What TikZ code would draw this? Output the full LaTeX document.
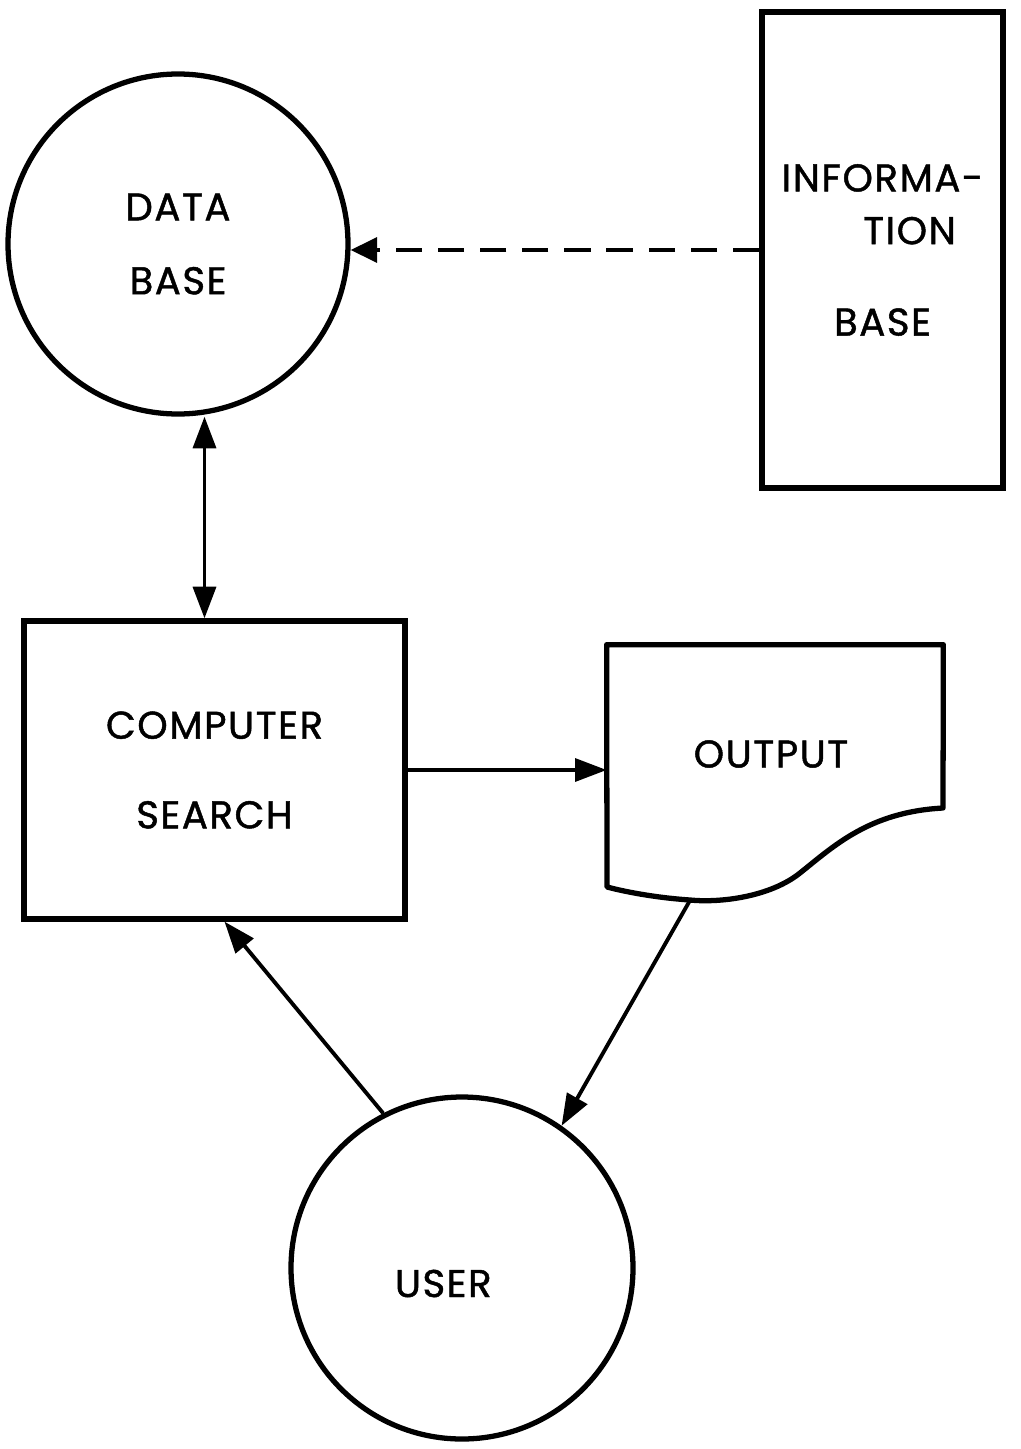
\documentclass[tikz,border=0pt]{standalone}
\usepackage{fontspec}
\newfontfamily\diagfont[LetterSpace=4,FakeBold=1.2]{Poppins}
\usetikzlibrary{positioning,arrows.meta,calc}

\begin{document}
\begin{tikzpicture}[
    % Plain black-on-white styles
    store_circle/.style={circle, draw=black, line width=3pt, minimum size=6.8cm,
                        inner sep=0pt, align=center,
                        font=\diagfont\fontsize{22}{30}\selectfont},
    process_box/.style={rectangle, draw=black, line width=3pt, inner sep=0pt,
                       align=center, font=\diagfont\fontsize{22}{30}\selectfont},
    doc_box/.style={rectangle, draw=none, minimum width=6.72cm, minimum height=5.1cm,
                   inner sep=0pt},
    doc_line/.style={draw=black, line width=3pt, line join=round},
    flow_arrow/.style={-{Triangle[length=18pt,width=13pt]}, line width=2.2pt},
    both_arrow/.style={{Triangle[length=18pt,width=13pt]}-{Triangle[length=18pt,width=13pt]},
                      line width=2.2pt},
    dash_arrow/.style={-{Triangle[length=15pt,width=14pt]}, line width=2.4pt,
                      dash pattern=on 15pt off 9pt}
]

\useasboundingbox (0,0) rectangle (20.42,-28.98);

% Top row: data base and information base
\node[store_circle] (database) at (3.56,-4.88) {DATA\\[12pt]BASE};
\node[process_box, minimum width=4.82cm, minimum height=9.52cm] (info) at (17.65,-5.0)
    {INFORMA-\\\hspace*{1.08cm}TION\\[22pt]BASE};

% Middle row: search and output
\node[process_box, minimum width=7.62cm, minimum height=5.96cm] (search) at (4.29,-15.4)
    {COMPUTER\\[21pt]SEARCH};
\node[doc_box] (output) at (15.5,-15.45) {};
\node[font=\diagfont\fontsize{22}{30}\selectfont, inner sep=0pt] (outtext)
    at ($(output.center)+(-0.08,0.37)$) {OUTPUT};

% Bottom: the user
\node[store_circle, minimum size=6.84cm] (user) at (9.24,-25.36)
    {\raisebox{0pt}[33pt][0pt]{USER}\hspace*{0.75cm}};

% Document outline with torn bottom edge
\draw[doc_line] (output.north west) -- (output.north east) -- (18.86,-16.16)
    .. controls (17.4,-16.24) and (16.7,-16.9) .. (16.0,-17.46)
    .. controls (15.4,-17.94) and (14.4,-18.06) .. (13.8,-18.0)
    .. controls (13.2,-17.96) and (12.6,-17.86) .. (12.14,-17.74) -- cycle;

% Connectors
\draw[dash_arrow] (info.west) -- (info.west -| database.east);
\draw[both_arrow] ([xshift=-0.2cm]search.north) -- ([xshift=-0.2cm]search.north |- database.south);
\draw[flow_arrow] (search.east) -- (search.east -| output.west);
\draw[flow_arrow] ([xshift=-1.7cm]output.south) -- (user.55);
\draw[flow_arrow] (user.117) -- ([xshift=0.2cm]search.south);

\end{tikzpicture}
\end{document}
